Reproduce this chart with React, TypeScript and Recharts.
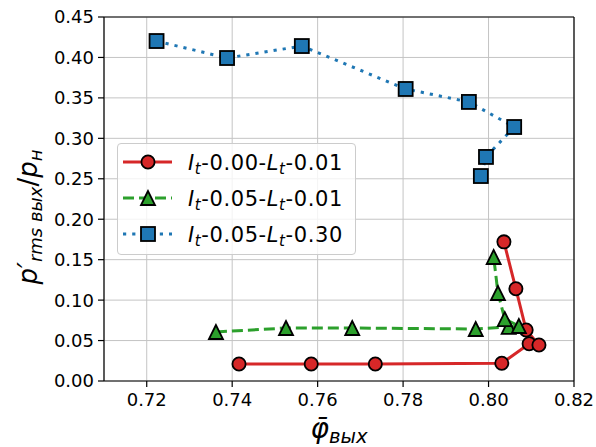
import React from 'react';
import { LineChart, Line, XAxis, YAxis, CartesianGrid, ReferenceLine, Legend } from 'recharts';

const redX = [0.7416, 0.7585, 0.7735, 0.8031, 0.8095, 0.8118, 0.8088, 0.8064, 0.8036];
const redY = [0.021, 0.021, 0.021, 0.022, 0.046, 0.0445, 0.063, 0.114, 0.172];

const greenX = [0.7362, 0.7526, 0.7681, 0.797, 0.8047, 0.8071, 0.8038, 0.8022, 0.8012];
const greenY = [0.0606, 0.0655, 0.0655, 0.0643, 0.0668, 0.068, 0.0766, 0.1088, 0.1533];

const blueX = [0.7223, 0.7388, 0.7563, 0.7806, 0.7954, 0.806, 0.7994, 0.7982];
const blueY = [0.4203, 0.3993, 0.4141, 0.361, 0.345, 0.314, 0.277, 0.2534];

const xTicks = [0.72, 0.74, 0.76, 0.78, 0.8, 0.82];
const yTicks = [0, 0.05, 0.1, 0.15, 0.2, 0.25, 0.3, 0.35, 0.4, 0.45];

const legendLabels = [
  { I: '0.00', L: '0.01' },
  { I: '0.05', L: '0.01' },
  { I: '0.05', L: '0.30' },
];

const toPoints = (xs: number[], ys: number[]) => xs.map((x, i) => ({ x, y: ys[i] }));

const FONT = "'DejaVu Sans', sans-serif";
const RED = '#d62728';
const GREEN = '#2ca02c';
const BLUE = '#1f77b4';

const circleShape = (cx: number, cy: number, key?: string) => (
  <circle key={key} cx={cx} cy={cy} r={6.6} fill={RED} stroke="#000" strokeWidth={1.8} />
);
const triShape = (cx: number, cy: number, key?: string) => (
  <polygon
    key={key}
    points={`${cx},${cy - 7} ${cx - 7},${cy + 7} ${cx + 7},${cy + 7}`}
    fill={GREEN}
    stroke="#000"
    strokeWidth={1.8}
    strokeLinejoin="miter"
  />
);
const squareShape = (cx: number, cy: number, key?: string) => (
  <rect key={key} x={cx - 7} y={cy - 7} width={14} height={14} fill={BLUE} stroke="#000" strokeWidth={1.8} />
);

const series = [
  { name: 'red', data: toPoints(redX, redY), color: RED, dash: undefined as string | undefined, shape: circleShape },
  { name: 'green', data: toPoints(greenX, greenY), color: GREEN, dash: '11 5', shape: triShape },
  { name: 'blue', data: toPoints(blueX, blueY), color: BLUE, dash: '3.2 6', shape: squareShape },
];

const LegendBox = () => (
  <div
    style={{
      width: 239,
      height: 112,
      boxSizing: 'border-box',
      border: '1px solid #cccccc',
      borderRadius: 4,
      background: 'rgba(255,255,255,0.8)',
    }}
  >
    <svg width={237} height={110} style={{ display: 'block' }}>
      {series.map((s, i) => {
        const cy = 18 + i * 36;
        const lab = legendLabels[i];
        return (
          <g key={s.name}>
            <line x1={5} x2={54} y1={cy} y2={cy} stroke={s.color} strokeWidth={3} strokeDasharray={s.dash} />
            {s.shape(30, cy)}
            <text x={70} y={cy + 7.5} fontFamily={FONT} fontSize={21} letterSpacing={0.6} fill="#000">
              <tspan fontStyle="italic">I</tspan>
              <tspan fontStyle="italic" fontSize={15} dy={4}>t</tspan>
              <tspan dy={-4}>{`-${lab.I}-`}</tspan>
              <tspan fontStyle="italic">L</tspan>
              <tspan fontStyle="italic" fontSize={15} dy={4}>t</tspan>
              <tspan dy={-4}>{`-${lab.L}`}</tspan>
            </text>
          </g>
        );
      })}
    </svg>
  </div>
);

export default function App() {
  return (
    <div style={{ position: 'absolute', left: 0, top: 0, width: 596, height: 447, background: '#fff' }}>
      <LineChart width={596} height={447} margin={{ top: 17, right: 22, bottom: 0, left: 0 }}>
        <CartesianGrid stroke="#c4c4c4" strokeWidth={1} />
        <XAxis
          type="number"
          dataKey="x"
          domain={[0.71, 0.82]}
          ticks={xTicks}
          allowDataOverflow
          height={66}
          tickSize={6}
          tickMargin={6}
          tickFormatter={(v: number) => v.toFixed(2)}
          tick={{ fill: '#000', fontSize: 18, fontFamily: FONT }}
          axisLine={{ stroke: '#000', strokeWidth: 1.2 }}
          tickLine={{ stroke: '#000', strokeWidth: 1.2 }}
        />
        <YAxis
          type="number"
          dataKey="y"
          domain={[0, 0.45]}
          ticks={yTicks}
          allowDataOverflow
          width={104}
          tickSize={6}
          tickMargin={4}
          tickFormatter={(v: number) => v.toFixed(2)}
          tick={{ fill: '#000', fontSize: 18, fontFamily: FONT }}
          axisLine={{ stroke: '#000', strokeWidth: 1.2 }}
          tickLine={{ stroke: '#000', strokeWidth: 1.2 }}
        />
        <ReferenceLine y={0.45} stroke="#000" strokeWidth={1.2} />
        <ReferenceLine x={0.82} stroke="#000" strokeWidth={1.2} />
        {series.map((s) => (
          <Line
            key={s.name}
            data={s.data}
            dataKey="y"
            type="linear"
            stroke={s.color}
            strokeWidth={3}
            strokeDasharray={s.dash}
            isAnimationActive={false}
            activeDot={false}
            dot={(p: any) => s.shape(p.cx, p.cy, `${s.name}-${p.index}`)}
          />
        ))}
        <Legend
          layout="vertical"
          align="center"
          verticalAlign="middle"
          content={() => <LegendBox />}
          wrapperStyle={{ position: 'absolute', left: 117, top: 143, width: 239, height: 112 }}
        />
      </LineChart>
      <svg
        width={596}
        height={447}
        style={{ position: 'absolute', left: 0, top: 0, pointerEvents: 'none' }}
      >
        <text x={339} y={438} textAnchor="middle" fontFamily={FONT} fontSize={28} fill="#000">
          <tspan fontStyle="italic">{'φ\u0304'}</tspan>
          <tspan fontStyle="italic" fontSize={19.6} dy={5}>вых</tspan>
        </text>
        <text
          transform="translate(37,217) rotate(-90)"
          textAnchor="middle"
          fontFamily={FONT}
          fontSize={26}
          fill="#000"
        >
          <tspan fontStyle="italic">{'p′'}</tspan>
          <tspan fontStyle="italic" fontSize={18} dy={5}>rms вых</tspan>
          <tspan dy={-5}>/</tspan>
          <tspan fontStyle="italic">p</tspan>
          <tspan fontStyle="italic" fontSize={18} dy={5}>н</tspan>
        </text>
      </svg>
    </div>
  );
}
